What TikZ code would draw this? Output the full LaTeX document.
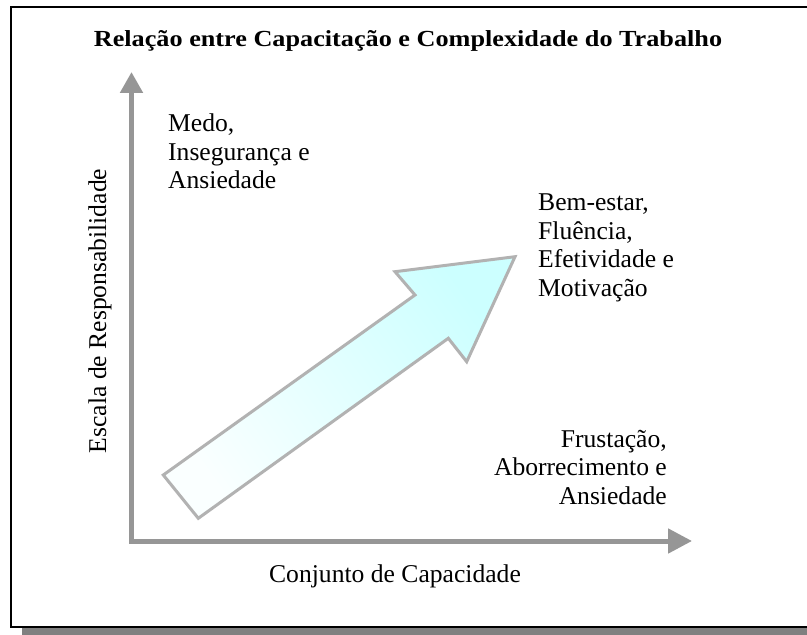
\documentclass[tikz,border=0pt]{standalone}
\usepackage{fontspec}
\setmainfont{Liberation Serif}
\usetikzlibrary{arrows.meta}
\definecolor{axisgray}{HTML}{969696}
\definecolor{shadowgray}{HTML}{808080}
\definecolor{arrowline}{HTML}{B2B2B2}
\definecolor{headcyan}{HTML}{CCFFFF}
\definecolor{tailwhite}{HTML}{FAFFFF}
\begin{document}
\begin{tikzpicture}[x=1bp,y=-1bp,
  lbl/.style={inner sep=0pt, font=\fontsize{25.6bp}{28.5bp}\selectfont},
  titlelbl/.style={inner sep=0pt, font=\fontsize{23bp}{28bp}\selectfont\bfseries},
  axisline/.style={draw=axisgray, line width=5bp, line join=miter,
    {Triangle[length=21bp,width=22bp]}-{Triangle[length=24bp,width=24bp]}},
  blockarrow/.style={draw=arrowline, line width=3bp, line join=miter,
    top color=tailwhite, bottom color=headcyan, shading angle=125.6}]
\useasboundingbox (0,0) rectangle (807,635);
% frame with shadow
\fill[shadowgray] (22,17) rectangle (820,640);
\draw[line width=1.5bp, fill=white] (11,7) rectangle (808.5,627);
% title
\node[titlelbl, anchor=base] (title) at (408,47) {\scalebox{1.14}[1]{Relação entre Capacitação e Complexidade do Trabalho}};
% axes
\coordinate (origin) at (131.5,541);
\coordinate (ytip) at (131.5,72);
\coordinate (xtip) at (692,541);
\draw[axisline] (ytip) -- (origin) -- (xtip);
% block arrow
\coordinate (t1) at (163.3,475);
\coordinate (t2) at (198.3,518.3);
\coordinate (s2) at (448.3,338.3);
\coordinate (b2) at (466.7,361.7);
\coordinate (tip) at (515,256.7);
\coordinate (b1) at (395,271.7);
\coordinate (s1) at (415,295);
\path[blockarrow] (t1) -- (t2) -- (s2) -- (b2) -- (tip) -- (b1) -- (s1) -- cycle;
% labels
\node[lbl, anchor=north west, align=left] (medo) at (168,114) {Medo,\\Insegurança e\\Ansiedade};
\node[lbl, anchor=north west, align=left] (bem) at (538,194) {Bem-estar,\\Fluência,\\Efetividade e\\Motivação};
\node[lbl, anchor=north east, align=right] (frus) at (667,430) {Frustação,\\Aborrecimento e\\Ansiedade};
\node[lbl, anchor=base] (xlabel) at (395,582) {Conjunto de Capacidade};
\node[lbl, rotate=90] (ylabel) at (100,311) {Escala de Responsabilidade};
\end{tikzpicture}
\end{document}
